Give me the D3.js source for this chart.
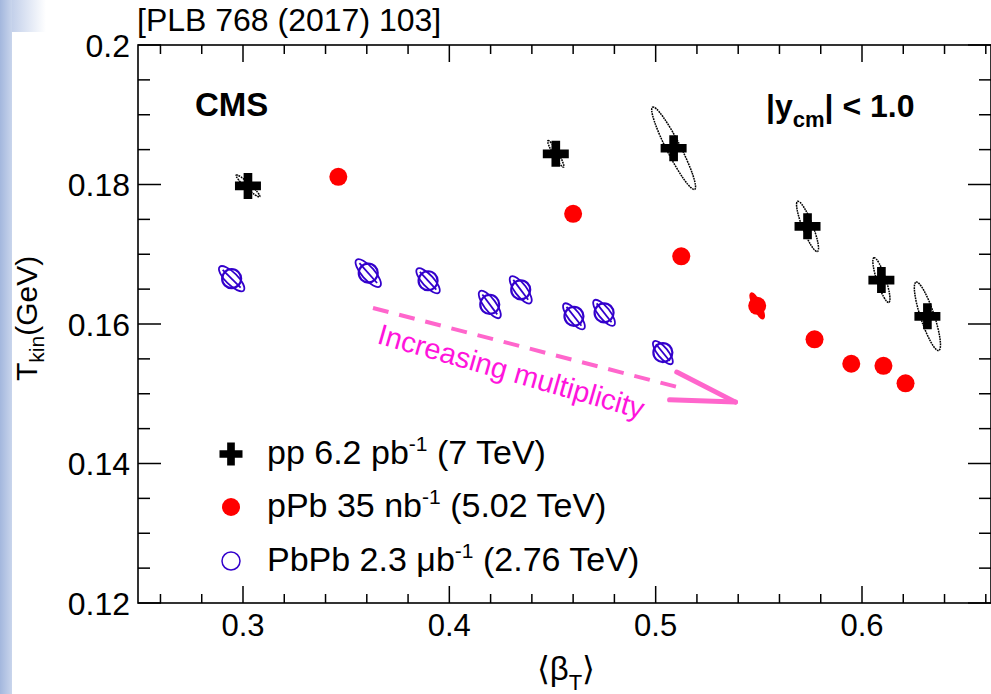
<!DOCTYPE html>
<html>
<head>
<meta charset="utf-8">
<script src="https://cdn.jsdelivr.net/npm/d3@7"></script>
<style>
body { margin: 0; background: #fff; }
svg text { font-family: "Liberation Sans", Arial, Helvetica, sans-serif; }
</style>
</head>
<body>
<svg id="chart" width="991" height="694"></svg>
<script>
// pp 6.2 pb-1 (7 TeV)
const ppBeta = [0.3024, 0.4516, 0.5087, 0.5736, 0.6094, 0.6317];
const ppTkin = [0.1798, 0.1844, 0.1852, 0.1740, 0.1663, 0.1611];
// correlated uncertainty ellipse: half major axis (dBeta, dTkin), minor/major ratio
const ppEllB = [-0.0057, -0.0038, -0.0102, -0.0048, -0.0036, -0.0055];
const ppEllT = [0.00155, 0.0019, 0.0059, 0.0036, 0.0032, 0.0049];
const ppEllR = [0.16, 0.16, 0.15, 0.19, 0.19, 0.19];

// pPb 35 nb-1 (5.02 TeV)
const pPbBeta = [0.3462, 0.4600, 0.5124, 0.5492, 0.5770, 0.5948, 0.6104, 0.6211];
const pPbTkin = [0.1811, 0.1758, 0.1697, 0.1626, 0.1578, 0.1543, 0.1540, 0.1515];
const pPbEllB = [-0.002, -0.002, -0.002, -0.0029, -0.002, -0.002, -0.002, -0.002];
const pPbEllT = [0.0008, 0.0008, 0.0008, 0.0018, 0.0008, 0.0008, 0.0008, 0.0008];
const pPbEllR = [0.25, 0.25, 0.25, 0.25, 0.25, 0.25, 0.25, 0.25];

// PbPb 2.3 mub-1 (2.76 TeV)
const PbPbBeta = [0.2945, 0.3607, 0.3897, 0.4196, 0.4346, 0.4604, 0.4750, 0.5035];
const PbPbTkin = [0.1665, 0.1673, 0.1662, 0.1628, 0.1649, 0.1611, 0.1616, 0.1559];
const PbPbEllB = [-0.0058, -0.0057, -0.0053, -0.0048, -0.0048, -0.0048, -0.0048, -0.0044];
const PbPbEllT = [0.0017, 0.0019, 0.0017, 0.0019, 0.0019, 0.0018, 0.0018, 0.0016];
const PbPbEllR = [0.36, 0.36, 0.36, 0.36, 0.36, 0.36, 0.36, 0.36];

// axis ticks
const xMajor = [0.3, 0.4, 0.5, 0.6];
const yMajor = [0.12, 0.14, 0.16, 0.18, 0.2];
const yLabels = ["0.12", "0.14", "0.16", "0.18", "0.2"];

// annotation arrow (data coordinates)
const arrowFrom = [0.3630, 0.1623];
const arrowTo = [0.5387, 0.1488];

const W = 991, H = 694;
const frame = {left: 138, right: 991, top: 45, bottom: 603};

const svg = d3.select("#chart");

// slide background strip on the left
let defs = svg.append("defs");
let grad = defs.append("linearGradient").attr("id", "strip");
grad.append("stop").attr("offset", "0%").attr("stop-color", "#a3b7dd");
grad.append("stop").attr("offset", "100%").attr("stop-color", "#c9d5ec");
let grad2 = defs.append("linearGradient").attr("id", "strip2");
grad2.append("stop").attr("offset", "0%").attr("stop-color", "#c3d0ea");
grad2.append("stop").attr("offset", "100%").attr("stop-color", "#ffffff");
svg.append("rect").attr("x", 0).attr("y", 0).attr("width", W).attr("height", H).attr("fill", "#fff");
svg.append("rect").attr("x", 0).attr("y", 0).attr("width", 12).attr("height", H).attr("fill", "url(#strip)");
svg.append("rect").attr("x", 12).attr("y", 0).attr("width", 34).attr("height", 32).attr("fill", "url(#strip2)");

let x = d3.scaleLinear().domain([0.3, 0.6]).range([243, 862]);
let y = d3.scaleLinear().domain([0.12, 0.2]).range([603, 45]);

// ticks
let xMinor = d3.range(0.24, 0.70, 0.02).filter(v => x(v) > frame.left + 1 && x(v) < frame.right - 1);
let yMinor = d3.range(0.12, 0.2001, 0.005);
let ax = svg.append("g").attr("stroke", "#000").attr("stroke-width", 1.5);
xMinor.forEach(v => {
    let major = xMajor.some(m => Math.abs(m - v) < 1e-6);
    let len = major ? 17 : 9;
    ax.append("line").attr("x1", x(v)).attr("x2", x(v)).attr("y1", frame.bottom).attr("y2", frame.bottom - len);
    ax.append("line").attr("x1", x(v)).attr("x2", x(v)).attr("y1", frame.top).attr("y2", frame.top + len);
});
yMinor.forEach(v => {
    let major = yMajor.some(m => Math.abs(m - v) < 1e-6);
    let len = major ? 23 : 12;
    ax.append("line").attr("y1", y(v)).attr("y2", y(v)).attr("x1", frame.left).attr("x2", frame.left + len);
    ax.append("line").attr("y1", y(v)).attr("y2", y(v)).attr("x1", frame.right).attr("x2", frame.right - len);
});
svg.append("rect")
    .attr("x", frame.left).attr("y", frame.top)
    .attr("width", frame.right - frame.left).attr("height", frame.bottom - frame.top)
    .attr("fill", "none").attr("stroke", "#000").attr("stroke-width", 1.6);

// tick labels
svg.append("g").selectAll("text").data(xMajor).enter().append("text")
    .attr("x", d => x(d)).attr("y", 636)
    .attr("text-anchor", "middle").attr("font-size", 31)
    .text(d => d3.format(".1f")(d));
svg.append("g").selectAll("text").data(yMajor).enter().append("text")
    .attr("x", 130).attr("y", d => y(d)).attr("dy", "0.36em")
    .attr("text-anchor", "end").attr("font-size", 32)
    .text((d, i) => yLabels[i]);

// axis titles
let xt = svg.append("text").attr("x", 566).attr("y", 680).attr("text-anchor", "middle").attr("font-size", 33);
xt.append("tspan").text("\u27E8\u03B2");
xt.append("tspan").attr("font-size", 22).attr("dy", 10).text("T");
xt.append("tspan").attr("dy", -10).text("\u27E9");

let yt = svg.append("text").attr("transform", "translate(37,381) rotate(-90)").attr("font-size", 30);
yt.append("tspan").text("T");
yt.append("tspan").attr("font-size", 21).attr("dy", 7).text("kin");
yt.append("tspan").attr("dy", -7).text("(GeV)");

// labels
svg.append("text").attr("x", 137).attr("y", 31).attr("font-size", 32).text("[PLB 768 (2017) 103]");
svg.append("text").attr("x", 195).attr("y", 116).attr("font-size", 33).attr("font-weight", "bold").text("CMS");
let yc = svg.append("text").attr("x", 766).attr("y", 117).attr("font-size", 32).attr("font-weight", "bold");
yc.append("tspan").text("|y");
yc.append("tspan").attr("font-size", 22).attr("dy", 10).text("cm");
yc.append("tspan").attr("dy", -10).text("| < 1.0");

// annotation arrow
let x0 = x(arrowFrom[0]), y0 = y(arrowFrom[1]), x1 = x(arrowTo[0]), y1 = y(arrowTo[1]);
let ang = Math.atan2(y1 - y0, x1 - x0);
let L = Math.hypot(x1 - x0, y1 - y0);
svg.append("line")
    .attr("x1", x0).attr("y1", y0)
    .attr("x2", x0 + (L - 58) * Math.cos(ang)).attr("y2", y0 + (L - 58) * Math.sin(ang))
    .attr("stroke", "#ff66cc").attr("stroke-width", 4).attr("stroke-dasharray", "16,11");
[-1, 1].forEach(s => {
    let a = ang + Math.PI + s * 12.5 * Math.PI / 180;
    svg.append("line")
        .attr("x1", x1).attr("y1", y1)
        .attr("x2", x1 + 66 * Math.cos(a)).attr("y2", y1 + 66 * Math.sin(a))
        .attr("stroke", "#ff66cc").attr("stroke-width", 5).attr("stroke-linecap", "round");
});
svg.append("text")
    .attr("transform", "translate(376,343) rotate(16)")
    .attr("font-size", 29).attr("fill", "#ff14dc")
    .text("Increasing multiplicity");

// uncertainty ellipses
function ellipses(g, beta, tkin, eb, et, er, color, dash) {
    beta.forEach((b, i) => {
        let hx = x(b + eb[i]) - x(b), hy = y(tkin[i] + et[i]) - y(tkin[i]);
        let len = Math.hypot(hx, hy);
        g.append("ellipse")
            .attr("transform", `translate(${x(b)},${y(tkin[i])}) rotate(${Math.atan2(hy, hx) * 180 / Math.PI})`)
            .attr("rx", len).attr("ry", len * er[i])
            .attr("fill", dash ? "none" : (color === "#ff0000" ? color : "none"))
            .attr("stroke", color).attr("stroke-width", dash ? 1.5 : 1.8)
            .attr("stroke-dasharray", dash || null);
    });
}

// PbPb markers: open circle + hatched ellipse
let gPb = svg.append("g");
ellipses(gPb, PbPbBeta, PbPbTkin, PbPbEllB, PbPbEllT, PbPbEllR, "#3300cc", null);
PbPbBeta.forEach((b, i) => {
    let hx = x(b + PbPbEllB[i]) - x(b), hy = y(PbPbTkin[i] + PbPbEllT[i]) - y(PbPbTkin[i]);
    let len = Math.hypot(hx, hy) * 0.75;
    let ux = hx / Math.hypot(hx, hy), uy = hy / Math.hypot(hx, hy);
    gPb.append("line")
        .attr("x1", x(b) + ux * len).attr("y1", y(PbPbTkin[i]) + uy * len)
        .attr("x2", x(b) - ux * len).attr("y2", y(PbPbTkin[i]) - uy * len)
        .attr("stroke", "#3300cc").attr("stroke-width", 1.8);
});
gPb.selectAll("circle").data(PbPbBeta).enter().append("circle")
    .attr("cx", d => x(d)).attr("cy", (d, i) => y(PbPbTkin[i])).attr("r", 9.5)
    .attr("fill", "none").attr("stroke", "#3300cc").attr("stroke-width", 2.2);

// pPb markers
let gpPb = svg.append("g");
ellipses(gpPb, pPbBeta, pPbTkin, pPbEllB, pPbEllT, pPbEllR, "#ff0000", null);
gpPb.selectAll("circle").data(pPbBeta).enter().append("circle")
    .attr("cx", d => x(d)).attr("cy", (d, i) => y(pPbTkin[i])).attr("r", 9)
    .attr("fill", "#ff0000");

// pp markers
let gpp = svg.append("g");
ellipses(gpp, ppBeta, ppTkin, ppEllB, ppEllT, ppEllR, "#000", "1.8,0.8");
let cross = d3.symbol().type(d3.symbolCross).size(375);
gpp.selectAll("path").data(ppBeta).enter().append("path")
    .attr("transform", (d, i) => `translate(${x(d)},${y(ppTkin[i])})`)
    .attr("d", cross).attr("fill", "#000");

// legend
let leg = svg.append("g").attr("font-size", 34);
leg.append("path").attr("transform", "translate(231,454)")
    .attr("d", d3.symbol().type(d3.symbolCross).size(294)).attr("fill", "#000");
leg.append("circle").attr("cx", 231).attr("cy", 507).attr("r", 9).attr("fill", "#ff0000");
leg.append("circle").attr("cx", 231).attr("cy", 561).attr("r", 9)
    .attr("fill", "none").attr("stroke", "#3300cc").attr("stroke-width", 1.5);
let legRows = [
    ["pp 6.2 pb", " (7 TeV)", 464],
    ["pPb 35 nb", " (5.02 TeV)", 517],
    ["PbPb 2.3 \u03BCb", " (2.76 TeV)", 571]
];
legRows.forEach(r => {
    let t = leg.append("text").attr("x", 267).attr("y", r[2]);
    t.append("tspan").text(r[0]);
    t.append("tspan").attr("font-size", 21).attr("dy", -13).text("-1");
    t.append("tspan").attr("dy", 13).text(r[1]);
});
</script>
</body>
</html>
